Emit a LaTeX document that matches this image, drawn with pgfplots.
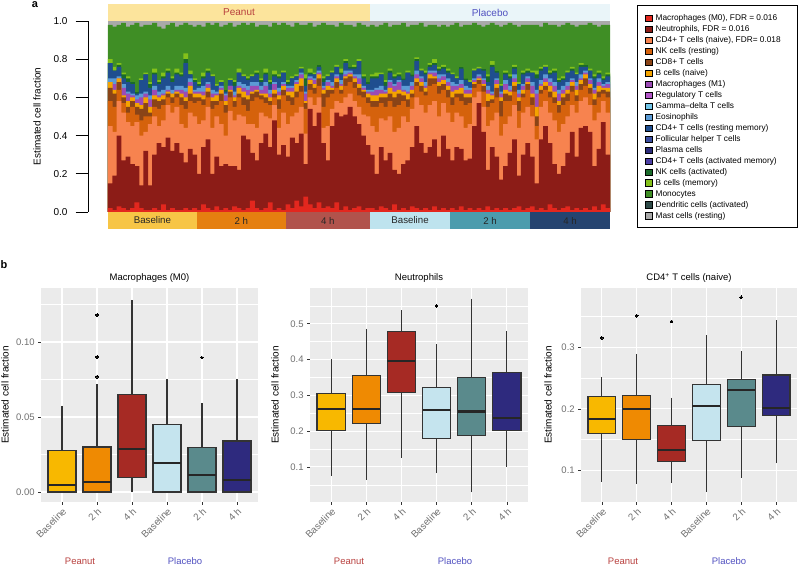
\documentclass[border=0pt]{standalone}
\usepackage{pgfplots}
\pgfplotsset{compat=1.18}
\usepackage{pgfplotstable}
\usepgfplotslibrary{statistics}
\usepackage{fontspec}
\setmainfont{Liberation Sans}

\definecolor{cm0}{HTML}{E3271E}
\definecolor{cneu}{HTML}{8C1C17}
\definecolor{ccd4n}{HTML}{F7834F}
\definecolor{cnkr}{HTML}{D5620C}
\definecolor{ccd8}{HTML}{8A4417}
\definecolor{cbn}{HTML}{F4A300}
\definecolor{cm1}{HTML}{9B4BB5}
\definecolor{ctreg}{HTML}{B356C8}
\definecolor{cgd}{HTML}{71C5E8}
\definecolor{ceos}{HTML}{5B9BD5}
\definecolor{crm}{HTML}{1F4E8F}
\definecolor{ctfh}{HTML}{3A4DA0}
\definecolor{cpc}{HTML}{2B2B7A}
\definecolor{ccda}{HTML}{4C3FA5}
\definecolor{cnka}{HTML}{1A6B2A}
\definecolor{cbm}{HTML}{84C11A}
\definecolor{cmono}{HTML}{3F8E25}
\definecolor{cdca}{HTML}{2E4A48}
\definecolor{cmast}{HTML}{A9A9A9}
\definecolor{sPB}{HTML}{F7C546}
\definecolor{sP2}{HTML}{E57F10}
\definecolor{sP4}{HTML}{B1534C}
\definecolor{sLB}{HTML}{BEE3EE}
\definecolor{sL2}{HTML}{4C9CAD}
\definecolor{sL4}{HTML}{254470}
\definecolor{topP}{HTML}{FCE49C}
\definecolor{topL}{HTML}{EAF5F9}
\definecolor{txP}{HTML}{B8403E}
\definecolor{txL}{HTML}{5050C0}
\definecolor{bPB}{HTML}{F8B800}
\definecolor{bP2}{HTML}{EF8A02}
\definecolor{bP4}{HTML}{A62A24}
\definecolor{bLB}{HTML}{C5E4EE}
\definecolor{bL2}{HTML}{5A8A8C}
\definecolor{bL4}{HTML}{2E2A7E}
\definecolor{boxd}{HTML}{333333}
\definecolor{ggbg}{HTML}{EBEBEB}
\definecolor{ticklab}{HTML}{707070}

\pgfplotstableread{
x m0 ne cd nr c8 bn m1 eo rm na bm mo
0 0.02 0.15 0.45 0.58 0.65 0.68 0.68 0.70 0.78 0.78 0.80 0.98
1 0.01 0.19 0.42 0.55 0.62 0.64 0.67 0.70 0.74 0.74 0.76 0.97
2 0.03 0.40 0.58 0.64 0.68 0.70 0.70 0.71 0.76 0.77 0.78 0.98
3 0.02 0.27 0.52 0.57 0.60 0.61 0.65 0.67 0.70 0.72 0.73 0.99
4 0.01 0.29 0.47 0.52 0.55 0.58 0.62 0.63 0.68 0.70 0.71 0.97
5 0.02 0.25 0.45 0.55 0.58 0.60 0.61 0.62 0.67 0.68 0.68 0.98
6 0.05 0.24 0.47 0.51 0.55 0.57 0.59 0.61 0.62 0.63 0.63 0.99
7 0.02 0.14 0.40 0.48 0.54 0.56 0.60 0.62 0.69 0.69 0.70 0.97
8 0.01 0.32 0.42 0.50 0.57 0.60 0.62 0.63 0.72 0.72 0.73 0.98
9 0.01 0.14 0.46 0.50 0.52 0.55 0.59 0.61 0.65 0.67 0.68 0.98
10 0.02 0.30 0.50 0.55 0.59 0.61 0.64 0.66 0.72 0.73 0.75 0.99
11 0.01 0.36 0.45 0.54 0.58 0.60 0.61 0.63 0.67 0.68 0.69 0.97
12 0.04 0.34 0.48 0.56 0.59 0.61 0.62 0.64 0.70 0.71 0.73 0.96
13 0.01 0.39 0.56 0.60 0.62 0.63 0.64 0.66 0.73 0.74 0.75 0.98
14 0.02 0.32 0.52 0.57 0.60 0.62 0.62 0.64 0.68 0.70 0.71 0.99
15 0.01 0.36 0.55 0.60 0.62 0.63 0.64 0.66 0.72 0.73 0.75 0.97
16 0.01 0.31 0.46 0.56 0.60 0.62 0.64 0.66 0.71 0.72 0.73 0.98
17 0.02 0.26 0.44 0.54 0.58 0.60 0.63 0.65 0.78 0.80 0.83 0.99
18 0.01 0.33 0.52 0.58 0.62 0.66 0.68 0.70 0.72 0.72 0.74 0.98
19 0.02 0.30 0.50 0.57 0.60 0.62 0.63 0.64 0.68 0.69 0.70 0.97
20 0.01 0.20 0.46 0.58 0.60 0.62 0.63 0.65 0.66 0.67 0.68 0.98
21 0.04 0.34 0.48 0.56 0.59 0.61 0.63 0.66 0.70 0.71 0.73 0.97
22 0.02 0.38 0.55 0.60 0.63 0.65 0.67 0.68 0.73 0.74 0.75 0.99
23 0.01 0.20 0.44 0.54 0.58 0.60 0.62 0.64 0.71 0.71 0.72 0.98
24 0.03 0.29 0.50 0.56 0.58 0.61 0.62 0.63 0.66 0.66 0.67 0.99
25 0.01 0.24 0.46 0.58 0.62 0.64 0.65 0.66 0.68 0.68 0.69 0.97
26 0.02 0.25 0.40 0.52 0.56 0.58 0.61 0.62 0.63 0.64 0.64 0.98
27 0.01 0.24 0.53 0.60 0.63 0.64 0.66 0.66 0.69 0.69 0.70 0.99
28 0.03 0.24 0.48 0.55 0.58 0.60 0.61 0.63 0.66 0.68 0.69 0.97
29 0.02 0.22 0.51 0.60 0.62 0.65 0.66 0.68 0.73 0.73 0.75 0.98
30 0.01 0.40 0.50 0.56 0.60 0.63 0.65 0.67 0.71 0.71 0.72 0.99
31 0.02 0.38 0.46 0.53 0.59 0.61 0.64 0.66 0.69 0.70 0.71 0.98
32 0.06 0.31 0.46 0.58 0.62 0.63 0.66 0.68 0.71 0.71 0.72 0.99
33 0.02 0.27 0.44 0.60 0.63 0.64 0.66 0.68 0.72 0.73 0.74 0.97
34 0.01 0.36 0.52 0.59 0.61 0.62 0.64 0.66 0.68 0.69 0.70 0.98
35 0.02 0.41 0.50 0.57 0.60 0.62 0.66 0.68 0.72 0.73 0.75 0.98
36 0.05 0.34 0.49 0.56 0.58 0.60 0.62 0.64 0.67 0.68 0.69 0.97
37 0.01 0.48 0.56 0.60 0.62 0.64 0.67 0.68 0.71 0.72 0.74 0.99
38 0.02 0.30 0.44 0.54 0.59 0.61 0.63 0.65 0.70 0.71 0.72 0.98
39 0.01 0.35 0.52 0.61 0.64 0.66 0.67 0.68 0.73 0.73 0.74 0.99
40 0.04 0.29 0.46 0.58 0.61 0.63 0.65 0.66 0.67 0.68 0.69 0.98
41 0.02 0.39 0.50 0.56 0.60 0.63 0.65 0.66 0.70 0.70 0.71 0.97
42 0.06 0.36 0.52 0.60 0.63 0.67 0.68 0.69 0.71 0.71 0.72 0.99
43 0.03 0.41 0.55 0.63 0.66 0.70 0.72 0.73 0.75 0.75 0.76 0.98
44 0.08 0.25 0.41 0.54 0.57 0.58 0.62 0.63 0.66 0.70 0.72 0.98
45 0.04 0.54 0.60 0.64 0.67 0.69 0.70 0.71 0.72 0.73 0.75 0.99
46 0.02 0.45 0.56 0.62 0.65 0.67 0.69 0.70 0.72 0.72 0.73 0.97
47 0.05 0.52 0.60 0.66 0.70 0.72 0.73 0.74 0.76 0.77 0.77 0.98
48 0.02 0.36 0.44 0.55 0.62 0.64 0.65 0.66 0.68 0.70 0.71 0.99
49 0.03 0.27 0.45 0.60 0.64 0.66 0.68 0.69 0.71 0.71 0.72 0.98
50 0.02 0.45 0.54 0.62 0.64 0.65 0.66 0.68 0.73 0.73 0.74 0.98
51 0.05 0.52 0.58 0.65 0.68 0.70 0.71 0.72 0.76 0.76 0.77 0.97
52 0.01 0.50 0.57 0.62 0.64 0.66 0.67 0.69 0.72 0.73 0.75 0.99
53 0.03 0.51 0.60 0.66 0.70 0.71 0.72 0.74 0.78 0.79 0.80 0.98
54 0.01 0.55 0.62 0.68 0.71 0.72 0.73 0.74 0.75 0.76 0.76 0.98
55 0.02 0.50 0.58 0.65 0.68 0.70 0.71 0.72 0.75 0.76 0.77 0.97
56 0.03 0.46 0.55 0.61 0.65 0.67 0.70 0.72 0.79 0.79 0.80 0.99
57 0.01 0.40 0.51 0.60 0.63 0.64 0.65 0.66 0.70 0.71 0.72 0.98
58 0.02 0.35 0.50 0.57 0.60 0.62 0.63 0.64 0.67 0.68 0.68 0.97
59 0.02 0.30 0.45 0.55 0.58 0.61 0.63 0.64 0.70 0.71 0.72 0.98
60 0.01 0.20 0.42 0.55 0.58 0.61 0.64 0.65 0.70 0.71 0.73 0.97
61 0.03 0.34 0.49 0.57 0.60 0.62 0.64 0.66 0.72 0.72 0.73 0.98
62 0.02 0.27 0.48 0.55 0.60 0.62 0.63 0.64 0.66 0.68 0.69 0.99
63 0.01 0.31 0.50 0.58 0.62 0.65 0.68 0.69 0.73 0.74 0.75 0.97
64 0.04 0.22 0.42 0.55 0.60 0.63 0.66 0.67 0.70 0.71 0.72 0.98
65 0.01 0.20 0.44 0.56 0.62 0.64 0.68 0.69 0.71 0.72 0.73 0.98
66 0.02 0.25 0.50 0.58 0.61 0.63 0.64 0.66 0.69 0.70 0.70 0.99
67 0.01 0.27 0.47 0.55 0.59 0.62 0.63 0.66 0.73 0.73 0.74 0.97
68 0.03 0.34 0.54 0.60 0.62 0.64 0.66 0.68 0.71 0.72 0.72 0.98
69 0.02 0.45 0.60 0.66 0.68 0.70 0.72 0.74 0.79 0.80 0.81 0.98
70 0.01 0.36 0.56 0.63 0.66 0.68 0.70 0.71 0.74 0.74 0.75 0.99
71 0.02 0.31 0.52 0.61 0.63 0.65 0.66 0.68 0.72 0.73 0.74 0.97
72 0.01 0.34 0.56 0.66 0.70 0.72 0.73 0.74 0.76 0.77 0.78 0.98
73 0.03 0.38 0.58 0.67 0.70 0.71 0.73 0.74 0.77 0.78 0.80 0.98
74 0.01 0.29 0.50 0.62 0.66 0.68 0.70 0.72 0.74 0.75 0.76 0.97
75 0.02 0.40 0.57 0.64 0.67 0.69 0.71 0.72 0.75 0.76 0.77 0.98
76 0.01 0.33 0.52 0.60 0.64 0.66 0.68 0.70 0.73 0.74 0.75 0.97
77 0.02 0.27 0.47 0.56 0.60 0.63 0.66 0.68 0.72 0.72 0.73 0.98
78 0.01 0.34 0.52 0.60 0.62 0.64 0.66 0.67 0.70 0.70 0.71 0.99
79 0.03 0.33 0.50 0.58 0.62 0.65 0.67 0.69 0.75 0.76 0.76 0.97
80 0.01 0.27 0.44 0.56 0.60 0.62 0.64 0.66 0.69 0.70 0.70 0.98
81 0.02 0.28 0.46 0.57 0.60 0.62 0.64 0.65 0.68 0.68 0.69 0.98
82 0.01 0.45 0.60 0.65 0.67 0.68 0.69 0.70 0.74 0.74 0.75 0.99
83 0.02 0.57 0.63 0.67 0.69 0.70 0.71 0.72 0.75 0.75 0.76 0.98
84 0.01 0.42 0.55 0.63 0.66 0.67 0.69 0.70 0.74 0.75 0.75 0.97
85 0.03 0.22 0.45 0.55 0.58 0.62 0.64 0.66 0.68 0.71 0.72 0.98
86 0.01 0.34 0.48 0.57 0.59 0.61 0.62 0.63 0.76 0.77 0.79 0.99
87 0.02 0.29 0.52 0.60 0.65 0.67 0.69 0.70 0.73 0.74 0.74 0.98
88 0.01 0.17 0.40 0.50 0.58 0.60 0.62 0.63 0.66 0.66 0.67 0.97
89 0.02 0.24 0.46 0.58 0.62 0.64 0.67 0.69 0.72 0.73 0.74 0.98
90 0.01 0.31 0.50 0.58 0.61 0.63 0.64 0.66 0.70 0.71 0.72 0.99
91 0.02 0.38 0.56 0.63 0.66 0.68 0.70 0.72 0.75 0.76 0.77 0.98
92 0.03 0.19 0.44 0.53 0.58 0.60 0.62 0.64 0.67 0.67 0.68 0.97
93 0.01 0.30 0.52 0.60 0.62 0.64 0.66 0.67 0.72 0.73 0.74 0.98
94 0.02 0.36 0.55 0.64 0.67 0.68 0.70 0.71 0.73 0.74 0.75 0.98
95 0.03 0.29 0.50 0.56 0.60 0.62 0.66 0.68 0.73 0.73 0.74 0.98
96 0.01 0.15 0.38 0.45 0.50 0.55 0.62 0.64 0.70 0.72 0.74 0.98
97 0.02 0.38 0.55 0.62 0.64 0.66 0.67 0.69 0.74 0.75 0.76 0.97
98 0.01 0.45 0.58 0.64 0.66 0.68 0.70 0.72 0.76 0.76 0.77 0.99
99 0.04 0.36 0.52 0.60 0.63 0.66 0.68 0.70 0.72 0.73 0.74 0.98
100 0.02 0.25 0.48 0.57 0.60 0.63 0.66 0.68 0.73 0.74 0.75 0.98
101 0.01 0.20 0.42 0.52 0.56 0.58 0.62 0.64 0.68 0.69 0.70 0.97
102 0.02 0.24 0.46 0.56 0.60 0.62 0.64 0.66 0.69 0.70 0.71 0.98
103 0.03 0.31 0.50 0.58 0.62 0.64 0.66 0.68 0.73 0.73 0.74 0.99
104 0.01 0.42 0.56 0.63 0.66 0.68 0.69 0.70 0.74 0.75 0.76 0.98
105 0.02 0.29 0.52 0.58 0.61 0.64 0.66 0.68 0.72 0.72 0.73 0.97
106 0.01 0.44 0.58 0.64 0.67 0.69 0.70 0.72 0.76 0.77 0.78 0.98
107 0.02 0.45 0.60 0.66 0.70 0.72 0.73 0.74 0.76 0.77 0.77 0.98
108 0.01 0.42 0.56 0.62 0.65 0.67 0.69 0.70 0.74 0.74 0.75 0.99
109 0.03 0.24 0.48 0.56 0.59 0.62 0.64 0.65 0.70 0.71 0.72 0.98
110 0.01 0.33 0.52 0.60 0.63 0.66 0.68 0.70 0.72 0.73 0.74 0.97
111 0.04 0.47 0.58 0.62 0.64 0.65 0.66 0.67 0.69 0.70 0.71 0.98
112 0.02 0.30 0.52 0.60 0.63 0.65 0.67 0.68 0.71 0.72 0.73 0.98
}\cib

\pgfplotsset{
  lgimg/.style={legend image code/.code={\draw[fill=#1,draw=black,line width=0.5pt] (0pt,-3.2pt) rectangle (6.5pt,3.3pt);}},
  lay/.style={ybar, bar width=1.08, bar shift=0pt, draw=none, fill=#1, lgimg=#1},
  bx/.style={draw=boxd, line width=1.1pt, fill=#1, mark=*, mark size=1.3pt, mark options={solid, fill=black, draw=black, line width=0pt}},
  gg/.style={scale only axis, anchor=south west, height=214pt,
    xmin=0.4, xmax=6.6, axis background/.style={fill=ggbg},
    axis line style={draw=none},
    grid=both, major grid style={draw=white, line width=1.1pt},
    minor grid style={draw=white, line width=0.55pt},
    xtick pos=bottom, ytick pos=left,
    tick align=outside, major tick length=2.8pt, minor tick length=0pt,
    tick style={draw=boxd, line width=0.6pt},
    xtick={1,2,3,4,5,6}, xticklabels={Baseline,2 h,4 h,Baseline,2 h,4 h},
    xticklabel style={rotate=45, anchor=north east, font=\fontsize{9.8}{10}\selectfont, text=ticklab, inner sep=1.5pt},
    yticklabel style={font=\fontsize{9.5}{10}\selectfont, text=ticklab},
    boxplot/draw direction=y,
    boxplot/box extend=0.8, boxplot/whisker extend=0,
    boxplot/every median/.style={line width=2.2pt, draw=black!85},
  },
}

\begin{document}
\begin{tikzpicture}[x=1pt,y=1pt]
\useasboundingbox (0,0) rectangle (799,565);

% ---------------- panel a ----------------
\begin{axis}[
  at={(88pt,353pt)}, anchor=south west, scale only axis, width=522pt, height=191pt,
  xmin=-5.0, xmax=112.5, ymin=0, ymax=1,
  hide x axis, axis y line*=left,
  ytick={0,0.2,0.4,0.6,0.8,1}, yticklabels={0.0,0.2,0.4,0.6,0.8,1.0},
  tick align=outside, major tick length=12.5pt, tick style={black, line width=0.6pt},
  y axis line style={line width=0.6pt},
  yticklabel style={font=\fontsize{10}{12}\selectfont, xshift=-4.5pt},
  clip=false, reverse legend,
  legend style={at={(1.0670,1.0429)}, anchor=north west, draw=none, fill=none,
    font=\fontsize{8.3}{9}\selectfont, cells={anchor=west},
    nodes={inner sep=0pt, minimum height=10.97pt}, row sep=0pt, column sep=3.5pt, inner sep=0pt},
]
\addplot[fill=cmast, draw=none, lgimg=cmast] coordinates {(-0.5,1) (112.5,1)} \closedcycle;
\addlegendentry{Mast cells (resting)}
\addlegendimage{lgimg=cdca}\addlegendentry{Dendritic cells (activated)}
\addplot[lay=cmono] table[x=x,y=mo]{\cib};\addlegendentry{Monocytes}
\addplot[lay=cbm] table[x=x,y=bm]{\cib};\addlegendentry{B cells (memory)}
\addplot[lay=cnka] table[x=x,y=na]{\cib};\addlegendentry{NK cells (activated)}
\addlegendimage{lgimg=ccda}\addlegendentry{CD4+ T cells (activated memory)}
\addlegendimage{lgimg=cpc}\addlegendentry{Plasma cells}
\addlegendimage{lgimg=ctfh}\addlegendentry{Follicular helper T cells}
\addplot[lay=crm] table[x=x,y=rm]{\cib};\addlegendentry{CD4+ T cells (resting memory)}
\addplot[lay=ceos] table[x=x,y=eo]{\cib};\addlegendentry{Eosinophils}
\addlegendimage{lgimg=cgd}\addlegendentry{Gamma\textendash delta T cells}
\addlegendimage{lgimg=ctreg}\addlegendentry{Regulatory T cells}
\addplot[lay=cm1] table[x=x,y=m1]{\cib};\addlegendentry{Macrophages (M1)}
\addplot[lay=cbn] table[x=x,y=bn]{\cib};\addlegendentry{B cells (naive)}
\addplot[lay=ccd8] table[x=x,y=c8]{\cib};\addlegendentry{CD8+ T cells}
\addplot[lay=cnkr] table[x=x,y=nr]{\cib};\addlegendentry{NK cells (resting)}
\addplot[lay=ccd4n] table[x=x,y=cd]{\cib};\addlegendentry{CD4+ T cells (naive), FDR= 0.018}
\addplot[lay=cneu] table[x=x,y=ne]{\cib};\addlegendentry{Neutrophils, FDR = 0.016}
\addplot[lay=cm0] table[x=x,y=m0]{\cib};\addlegendentry{Macrophages (M0), FDR = 0.016}
% group strips
\fill[topP] (axis cs:-0.5,1) rectangle (axis cs:58.5,1.089);
\fill[topL] (axis cs:58.5,1) rectangle (axis cs:112.5,1.089);
\node[font=\fontsize{10}{12}\selectfont, text=txP] at (axis cs:29,1.0445) {Peanut};
\node[font=\fontsize{10}{12}\selectfont, text=txL] at (axis cs:85.5,1.0445) {Placebo};
\fill[sPB] (axis cs:-0.5,0) rectangle (axis cs:19.5,-0.089);
\fill[sP2] (axis cs:19.5,0) rectangle (axis cs:39.5,-0.089);
\fill[sP4] (axis cs:39.5,0) rectangle (axis cs:58.5,-0.089);
\fill[sLB] (axis cs:58.5,0) rectangle (axis cs:76.5,-0.089);
\fill[sL2] (axis cs:76.5,0) rectangle (axis cs:94.5,-0.089);
\fill[sL4] (axis cs:94.5,0) rectangle (axis cs:112.5,-0.089);
\node[font=\fontsize{9.7}{12}\selectfont, text=black!85] at (axis cs:9.5,-0.0445) {Baseline};
\node[font=\fontsize{9.7}{12}\selectfont, text=black!85] at (axis cs:29.5,-0.0445) {2 h};
\node[font=\fontsize{9.7}{12}\selectfont, text=black!85] at (axis cs:49,-0.0445) {4 h};
\node[font=\fontsize{9.7}{12}\selectfont, text=black!85] at (axis cs:67.5,-0.0445) {Baseline};
\node[font=\fontsize{9.7}{12}\selectfont, text=black!85] at (axis cs:85.5,-0.0445) {2 h};
\node[font=\fontsize{9.7}{12}\selectfont, text=black!85] at (axis cs:103.5,-0.0445) {4 h};
\end{axis}
\draw[line width=0.8pt] (637,560) rectangle (797,338);
\node[rotate=90, font=\fontsize{10}{12}\selectfont] at (37,448.5) {Estimated cell fraction};
\node[font=\bfseries\fontsize{11}{12}\selectfont] at (35,560) {a};
\node[font=\bfseries\fontsize{11}{12}\selectfont] at (4,300) {b};

% ---------------- panel b1 ----------------
\begin{axis}[gg, at={(41pt,63pt)}, width=217pt, ymin=-0.0067, ymax=0.136,
  ytick={0,0.05,0.1}, yticklabels={0.00,0.05,0.10}, minor ytick={0.025,0.075,0.125}]
\addplot[bx=bPB, boxplot prepared={draw position=1, lower whisker=0, lower quartile=0, median=0.0044, upper quartile=0.0277, upper whisker=0.0575}] coordinates {};
\addplot[bx=bP2, boxplot prepared={draw position=2, lower whisker=0, lower quartile=0, median=0.0066, upper quartile=0.030, upper whisker=0.0717}] coordinates {(2,0.0768) (2,0.090) (2,0.118)};
\addplot[bx=bP4, boxplot prepared={draw position=3, lower whisker=0, lower quartile=0.0097, median=0.0285, upper quartile=0.065, upper whisker=0.128}] coordinates {};
\addplot[bx=bLB, boxplot prepared={draw position=4, lower whisker=0, lower quartile=0, median=0.0195, upper quartile=0.045, upper whisker=0.075}] coordinates {};
\addplot[bx=bL2, boxplot prepared={draw position=5, lower whisker=0, lower quartile=0, median=0.0115, upper quartile=0.0296, upper whisker=0.059}] coordinates {(5,0.0896)};
\addplot[bx=bL4, boxplot prepared={draw position=6, lower whisker=0, lower quartile=0, median=0.008, upper quartile=0.034, upper whisker=0.075}] coordinates {};
\end{axis}

% ---------------- panel b2 ----------------
\begin{axis}[gg, at={(310pt,63pt)}, width=218pt, ymin=0.002, ymax=0.60,
  ytick={0.1,0.2,0.3,0.4,0.5}, yticklabels={0.1,0.2,0.3,0.4,0.5}, minor ytick={0.05,0.15,0.25,0.35,0.45,0.55}]
\addplot[bx=bPB, boxplot prepared={draw position=1, lower whisker=0.074, lower quartile=0.2017, median=0.261, upper quartile=0.306, upper whisker=0.402}] coordinates {};
\addplot[bx=bP2, boxplot prepared={draw position=2, lower whisker=0.064, lower quartile=0.222, median=0.262, upper quartile=0.355, upper whisker=0.486}] coordinates {};
\addplot[bx=bP4, boxplot prepared={draw position=3, lower whisker=0.126, lower quartile=0.309, median=0.395, upper quartile=0.479, upper whisker=0.538}] coordinates {};
\addplot[bx=bLB, boxplot prepared={draw position=4, lower whisker=0.082, lower quartile=0.180, median=0.260, upper quartile=0.322, upper whisker=0.444}] coordinates {(4,0.550)};
\addplot[bx=bL2, boxplot prepared={draw position=5, lower whisker=0.029, lower quartile=0.187, median=0.255, upper quartile=0.351, upper whisker=0.570}] coordinates {};
\addplot[bx=bL4, boxplot prepared={draw position=6, lower whisker=0.101, lower quartile=0.2007, median=0.237, upper quartile=0.365, upper whisker=0.479}] coordinates {};
\end{axis}

% ---------------- panel b3 ----------------
\begin{axis}[gg, at={(581pt,63pt)}, width=216pt, ymin=0.049, ymax=0.396,
  ytick={0.1,0.2,0.3}, yticklabels={0.1,0.2,0.3}, minor ytick={0.15,0.25,0.35}]
\addplot[bx=bPB, boxplot prepared={draw position=1, lower whisker=0.082, lower quartile=0.160, median=0.183, upper quartile=0.2205, upper whisker=0.252}] coordinates {(1,0.315)};
\addplot[bx=bP2, boxplot prepared={draw position=2, lower whisker=0.079, lower quartile=0.1497, median=0.200, upper quartile=0.221, upper whisker=0.289}] coordinates {(2,0.351)};
\addplot[bx=bP4, boxplot prepared={draw position=3, lower whisker=0.0805, lower quartile=0.1146, median=0.1335, upper quartile=0.173, upper whisker=0.218}] coordinates {(3,0.342)};
\addplot[bx=bLB, boxplot prepared={draw position=4, lower whisker=0.065, lower quartile=0.1486, median=0.205, upper quartile=0.239, upper whisker=0.319}] coordinates {};
\addplot[bx=bL2, boxplot prepared={draw position=5, lower whisker=0.0886, lower quartile=0.172, median=0.231, upper quartile=0.247, upper whisker=0.294}] coordinates {(5,0.381)};
\addplot[bx=bL4, boxplot prepared={draw position=6, lower whisker=0.112, lower quartile=0.189, median=0.202, upper quartile=0.255, upper whisker=0.344}] coordinates {};
\end{axis}

% titles and labels of panel b
\node[font=\fontsize{9.5}{11}\selectfont] at (149.5,287) {Macrophages (M0)};
\node[font=\fontsize{9.5}{11}\selectfont] at (419,287) {Neutrophils};
\node[font=\fontsize{9.5}{11}\selectfont] at (689,287) {CD4\textsuperscript{+} T cells (naive)};
\node[rotate=90, font=\fontsize{10}{12}\selectfont] at (5,170) {Estimated cell fraction};
\node[rotate=90, font=\fontsize{10}{12}\selectfont] at (275,170) {Estimated cell fraction};
\node[rotate=90, font=\fontsize{10}{12}\selectfont] at (548,170) {Estimated cell fraction};
\node[anchor=base, font=\fontsize{9.5}{11}\selectfont, text=txP] at (80,0.8) {Peanut};
\node[anchor=base, font=\fontsize{9.5}{11}\selectfont, text=txL] at (185,0.8) {Placebo};
\node[anchor=base, font=\fontsize{9.5}{11}\selectfont, text=txP] at (349,0.8) {Peanut};
\node[anchor=base, font=\fontsize{9.5}{11}\selectfont, text=txL] at (455,0.8) {Placebo};
\node[anchor=base, font=\fontsize{9.5}{11}\selectfont, text=txP] at (623,0.8) {Peanut};
\node[anchor=base, font=\fontsize{9.5}{11}\selectfont, text=txL] at (729,0.8) {Placebo};
\end{tikzpicture}
\end{document}
